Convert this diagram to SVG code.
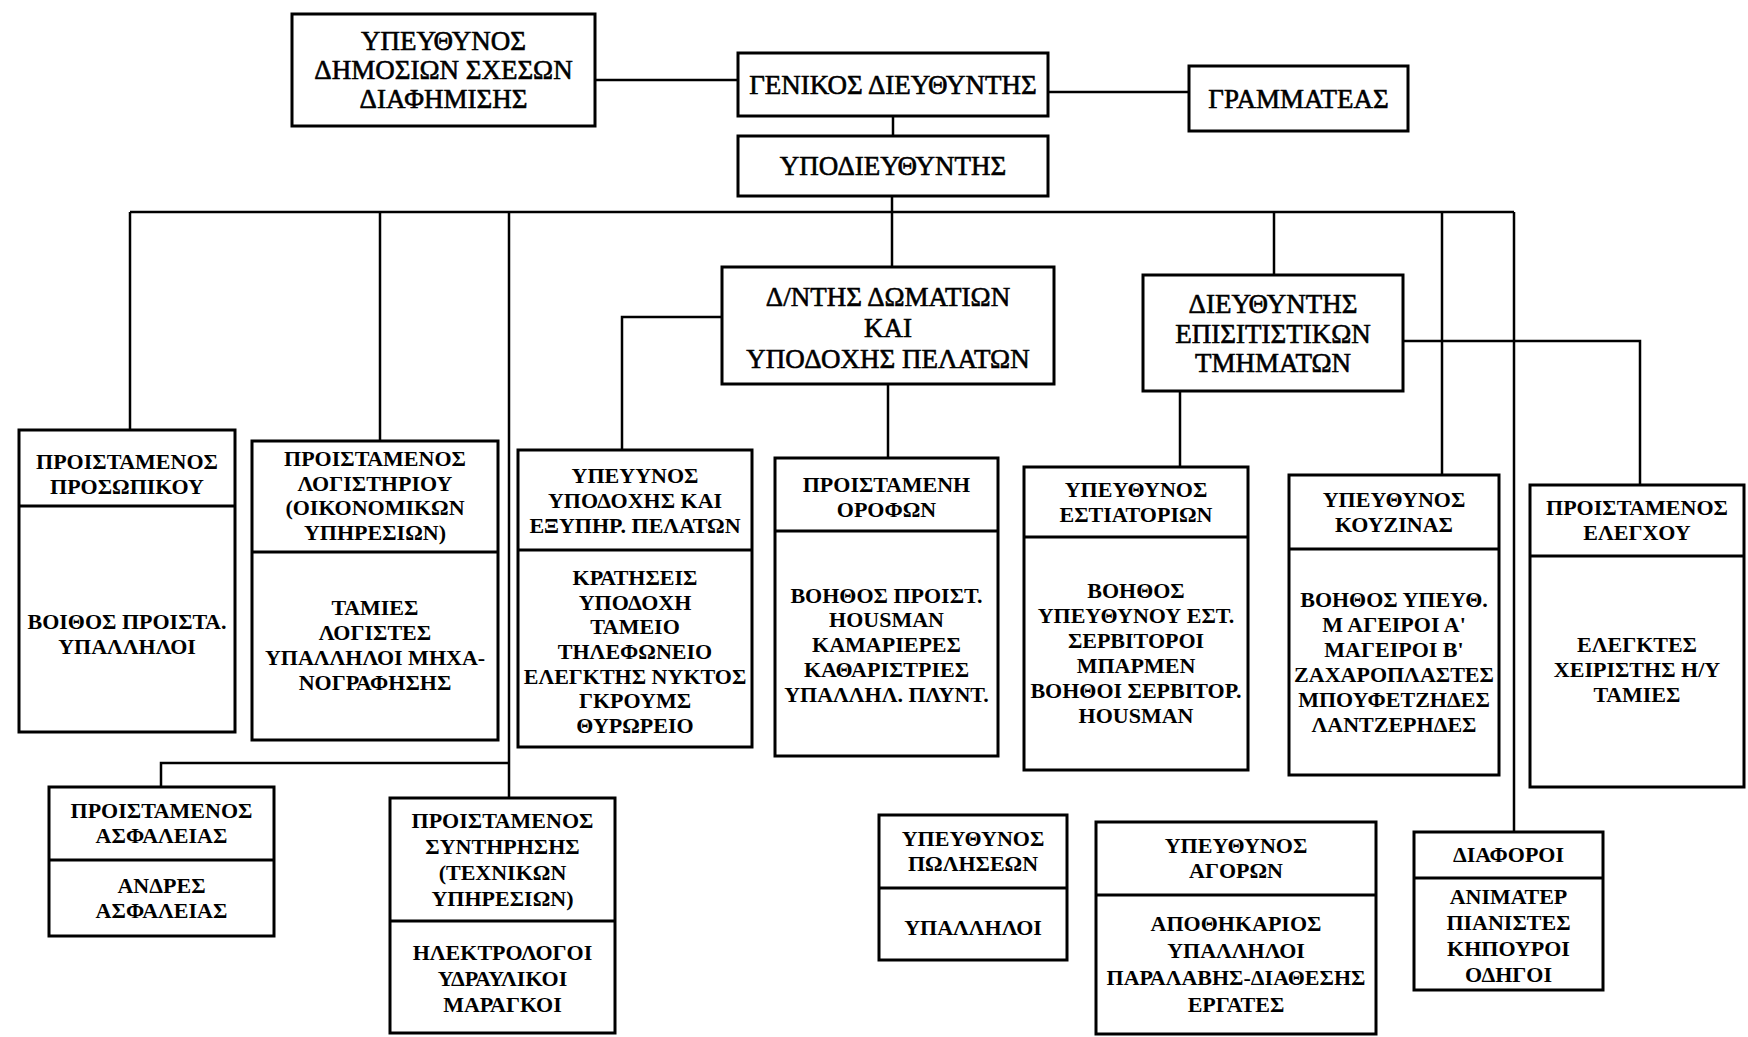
<svg xmlns="http://www.w3.org/2000/svg" width="1748" height="1037" viewBox="0 0 1748 1037">
<style>
  .bx { fill: #fff; stroke: #000; stroke-width: 3; }
  .dv { stroke: #000; stroke-width: 3; }
  .ln { fill: none; stroke: #000; stroke-width: 2.5; }
  .t1 { font-family: "Liberation Serif", "DejaVu Serif", serif; font-size: 27px; text-anchor: middle; fill: #000; stroke: #000; stroke-width: 0.6; }
  .t2 { font-family: "Liberation Serif", "DejaVu Serif", serif; font-size: 22px; font-weight: bold; text-anchor: middle; fill: #000; }
</style>
<rect width="1748" height="1037" fill="#fff"/>

<g id="connectors">
  <line class="ln" x1="595" y1="80" x2="738" y2="80"/>
  <line class="ln" x1="1048" y1="92" x2="1189" y2="92"/>
  <line class="ln" x1="893" y1="116" x2="893" y2="136"/>
  <line class="ln" x1="892" y1="196" x2="892" y2="267"/>
  <line class="ln" x1="130" y1="212" x2="1514" y2="212"/>
  <line class="ln" x1="130" y1="212" x2="130" y2="430"/>
  <line class="ln" x1="380" y1="212" x2="380" y2="441"/>
  <line class="ln" x1="509" y1="212" x2="509" y2="798"/>
  <line class="ln" x1="1274" y1="212" x2="1274" y2="275"/>
  <line class="ln" x1="1442" y1="212" x2="1442" y2="475"/>
  <line class="ln" x1="1514" y1="212" x2="1514" y2="832"/>
  <polyline class="ln" points="722,317 622,317 622,450"/>
  <line class="ln" x1="888" y1="384" x2="888" y2="458"/>
  <line class="ln" x1="1180" y1="391" x2="1180" y2="467"/>
  <polyline class="ln" points="1403,341 1640,341 1640,485"/>
  <polyline class="ln" points="509,763 161,763 161,787"/>
</g>

<g id="pr">
  <rect class="bx" x="292" y="14" width="303" height="112"/>
  <text class="t1"><tspan x="443.5" y="50">ΥΠΕΥΘΥΝΟΣ</tspan><tspan x="443.5" y="79">ΔΗΜΟΣΙΩΝ ΣΧΕΣΩΝ</tspan><tspan x="443.5" y="108">ΔΙΑΦΗΜΙΣΗΣ</tspan></text>
</g>
<g id="gm">
  <rect class="bx" x="738" y="53" width="310" height="63"/>
  <text class="t1" x="893" y="94">ΓΕΝΙΚΟΣ ΔΙΕΥΘΥΝΤΗΣ</text>
</g>
<g id="secretary">
  <rect class="bx" x="1189" y="66" width="219" height="65"/>
  <text class="t1" x="1298.5" y="108">ΓΡΑΜΜΑΤΕΑΣ</text>
</g>
<g id="deputy">
  <rect class="bx" x="738" y="136" width="310" height="60"/>
  <text class="t1" x="893" y="175">ΥΠΟΔΙΕΥΘΥΝΤΗΣ</text>
</g>
<g id="rooms">
  <rect class="bx" x="722" y="267" width="332" height="117"/>
  <text class="t1"><tspan x="888" y="306">Δ/ΝΤΗΣ ΔΩΜΑΤΙΩΝ</tspan><tspan x="888" y="337">ΚΑΙ</tspan><tspan x="888" y="368">ΥΠΟΔΟΧΗΣ ΠΕΛΑΤΩΝ</tspan></text>
</g>
<g id="fb">
  <rect class="bx" x="1143" y="275" width="260" height="116"/>
  <text class="t1"><tspan x="1273" y="313">ΔΙΕΥΘΥΝΤΗΣ</tspan><tspan x="1273" y="343">ΕΠΙΣΙΤΙΣΤΙΚΩΝ</tspan><tspan x="1273" y="372">ΤΜΗΜΑΤΩΝ</tspan></text>
</g>

<g id="personnel">
  <rect class="bx" x="19" y="430" width="216" height="302"/>
  <line class="dv" x1="19" y1="506" x2="235" y2="506"/>
  <text class="t2"><tspan x="127" y="469">ΠΡΟΙΣΤΑΜΕΝΟΣ</tspan><tspan x="127" y="494">ΠΡΟΣΩΠΙΚΟΥ</tspan></text>
  <text class="t2"><tspan x="127" y="629">ΒΟΙΘΟΣ ΠΡΟΙΣΤΑ.</tspan><tspan x="127" y="654">ΥΠΑΛΛΗΛΟΙ</tspan></text>
</g>
<g id="accounting">
  <rect class="bx" x="252" y="441" width="246" height="299"/>
  <line class="dv" x1="252" y1="552" x2="498" y2="552"/>
  <text class="t2"><tspan x="375" y="466">ΠΡΟΙΣΤΑΜΕΝΟΣ</tspan><tspan x="375" y="491">ΛΟΓΙΣΤΗΡΙΟΥ</tspan><tspan x="375" y="515">(ΟΙΚΟΝΟΜΙΚΩΝ</tspan><tspan x="375" y="540">ΥΠΗΡΕΣΙΩΝ)</tspan></text>
  <text class="t2"><tspan x="375" y="615">ΤΑΜΙΕΣ</tspan><tspan x="375" y="640">ΛΟΓΙΣΤΕΣ</tspan><tspan x="375" y="665">ΥΠΑΛΛΗΛΟΙ ΜΗΧΑ-</tspan><tspan x="375" y="690">ΝΟΓΡΑΦΗΣΗΣ</tspan></text>
</g>
<g id="reception">
  <rect class="bx" x="518" y="450" width="234" height="297"/>
  <line class="dv" x1="518" y1="550" x2="752" y2="550"/>
  <text class="t2"><tspan x="635" y="483">ΥΠΕΥΥΝΟΣ</tspan><tspan x="635" y="508">ΥΠΟΔΟΧΗΣ ΚΑΙ</tspan><tspan x="635" y="533">ΕΞΥΠΗΡ. ΠΕΛΑΤΩΝ</tspan></text>
  <text class="t2"><tspan x="635" y="585">ΚΡΑΤΗΣΕΙΣ</tspan><tspan x="635" y="610">ΥΠΟΔΟΧΗ</tspan><tspan x="635" y="634">ΤΑΜΕΙΟ</tspan><tspan x="635" y="659">ΤΗΛΕΦΩΝΕΙΟ</tspan><tspan x="635" y="684">ΕΛΕΓΚΤΗΣ ΝΥΚΤΟΣ</tspan><tspan x="635" y="708">ΓΚΡΟΥΜΣ</tspan><tspan x="635" y="733">ΘΥΡΩΡΕΙΟ</tspan></text>
</g>
<g id="floors">
  <rect class="bx" x="775" y="458" width="223" height="298"/>
  <line class="dv" x1="775" y1="531" x2="998" y2="531"/>
  <text class="t2"><tspan x="886.5" y="492">ΠΡΟΙΣΤΑΜΕΝΗ</tspan><tspan x="886.5" y="517">ΟΡΟΦΩΝ</tspan></text>
  <text class="t2"><tspan x="886.5" y="603">ΒΟΗΘΟΣ ΠΡΟΙΣΤ.</tspan><tspan x="886.5" y="627">HOUSMAN</tspan><tspan x="886.5" y="652">ΚΑΜΑΡΙΕΡΕΣ</tspan><tspan x="886.5" y="677">ΚΑΘΑΡΙΣΤΡΙΕΣ</tspan><tspan x="886.5" y="702">ΥΠΑΛΛΗΛ. ΠΛΥΝΤ.</tspan></text>
</g>
<g id="restaurants">
  <rect class="bx" x="1024" y="467" width="224" height="303"/>
  <line class="dv" x1="1024" y1="537" x2="1248" y2="537"/>
  <text class="t2"><tspan x="1136" y="497">ΥΠΕΥΘΥΝΟΣ</tspan><tspan x="1136" y="522">ΕΣΤΙΑΤΟΡΙΩΝ</tspan></text>
  <text class="t2"><tspan x="1136" y="598">ΒΟΗΘΟΣ</tspan><tspan x="1136" y="623">ΥΠΕΥΘΥΝΟΥ ΕΣΤ.</tspan><tspan x="1136" y="648">ΣΕΡΒΙΤΟΡΟΙ</tspan><tspan x="1136" y="673">ΜΠΑΡΜΕΝ</tspan><tspan x="1136" y="698">ΒΟΗΘΟΙ ΣΕΡΒΙΤΟΡ.</tspan><tspan x="1136" y="723">HOUSMAN</tspan></text>
</g>
<g id="kitchen">
  <rect class="bx" x="1289" y="475" width="210" height="300"/>
  <line class="dv" x1="1289" y1="549" x2="1499" y2="549"/>
  <text class="t2"><tspan x="1394" y="507">ΥΠΕΥΘΥΝΟΣ</tspan><tspan x="1394" y="532">ΚΟΥΖΙΝΑΣ</tspan></text>
  <text class="t2"><tspan x="1394" y="607">ΒΟΗΘΟΣ ΥΠΕΥΘ.</tspan><tspan x="1394" y="632">Μ ΑΓΕΙΡΟΙ Α'</tspan><tspan x="1394" y="657">ΜΑΓΕΙΡΟΙ Β'</tspan><tspan x="1394" y="682">ΖΑΧΑΡΟΠΛΑΣΤΕΣ</tspan><tspan x="1394" y="707">ΜΠΟΥΦΕΤΖΗΔΕΣ</tspan><tspan x="1394" y="732">ΛΑΝΤΖΕΡΗΔΕΣ</tspan></text>
</g>
<g id="control">
  <rect class="bx" x="1530" y="485" width="214" height="302"/>
  <line class="dv" x1="1530" y1="556" x2="1744" y2="556"/>
  <text class="t2"><tspan x="1637" y="515">ΠΡΟΙΣΤΑΜΕΝΟΣ</tspan><tspan x="1637" y="540">ΕΛΕΓΧΟΥ</tspan></text>
  <text class="t2"><tspan x="1637" y="652">ΕΛΕΓΚΤΕΣ</tspan><tspan x="1637" y="677">ΧΕΙΡΙΣΤΗΣ Η/Υ</tspan><tspan x="1637" y="702">ΤΑΜΙΕΣ</tspan></text>
</g>
<g id="security">
  <rect class="bx" x="49" y="787" width="225" height="149"/>
  <line class="dv" x1="49" y1="860" x2="274" y2="860"/>
  <text class="t2"><tspan x="161.5" y="818">ΠΡΟΙΣΤΑΜΕΝΟΣ</tspan><tspan x="161.5" y="843">ΑΣΦΑΛΕΙΑΣ</tspan></text>
  <text class="t2"><tspan x="161.5" y="893">ΑΝΔΡΕΣ</tspan><tspan x="161.5" y="918">ΑΣΦΑΛΕΙΑΣ</tspan></text>
</g>
<g id="maintenance">
  <rect class="bx" x="390" y="798" width="225" height="235"/>
  <line class="dv" x1="390" y1="921" x2="615" y2="921"/>
  <text class="t2"><tspan x="502.5" y="828">ΠΡΟΙΣΤΑΜΕΝΟΣ</tspan><tspan x="502.5" y="854">ΣΥΝΤΗΡΗΣΗΣ</tspan><tspan x="502.5" y="880">(ΤΕΧΝΙΚΩΝ</tspan><tspan x="502.5" y="906">ΥΠΗΡΕΣΙΩΝ)</tspan></text>
  <text class="t2"><tspan x="502.5" y="960">ΗΛΕΚΤΡΟΛΟΓΟΙ</tspan><tspan x="502.5" y="986">ΥΔΡΑΥΛΙΚΟΙ</tspan><tspan x="502.5" y="1012">ΜΑΡΑΓΚΟΙ</tspan></text>
</g>
<g id="sales">
  <rect class="bx" x="879" y="815" width="188" height="145"/>
  <line class="dv" x1="879" y1="888" x2="1067" y2="888"/>
  <text class="t2"><tspan x="973" y="846">ΥΠΕΥΘΥΝΟΣ</tspan><tspan x="973" y="871">ΠΩΛΗΣΕΩΝ</tspan></text>
  <text class="t2" x="973" y="935">ΥΠΑΛΛΗΛΟΙ</text>
</g>
<g id="purchasing">
  <rect class="bx" x="1096" y="822" width="280" height="212"/>
  <line class="dv" x1="1096" y1="895" x2="1376" y2="895"/>
  <text class="t2"><tspan x="1236" y="853">ΥΠΕΥΘΥΝΟΣ</tspan><tspan x="1236" y="878">ΑΓΟΡΩΝ</tspan></text>
  <text class="t2"><tspan x="1236" y="931">ΑΠΟΘΗΚΑΡΙΟΣ</tspan><tspan x="1236" y="958">ΥΠΑΛΛΗΛΟΙ</tspan><tspan x="1236" y="985">ΠΑΡΑΛΑΒΗΣ-ΔΙΑΘΕΣΗΣ</tspan><tspan x="1236" y="1012">ΕΡΓΑΤΕΣ</tspan></text>
</g>
<g id="misc">
  <rect class="bx" x="1414" y="832" width="189" height="158"/>
  <line class="dv" x1="1414" y1="878" x2="1603" y2="878"/>
  <text class="t2" x="1508.5" y="862">ΔΙΑΦΟΡΟΙ</text>
  <text class="t2"><tspan x="1508.5" y="904">ΑΝΙΜΑΤΕΡ</tspan><tspan x="1508.5" y="930">ΠΙΑΝΙΣΤΕΣ</tspan><tspan x="1508.5" y="956">ΚΗΠΟΥΡΟΙ</tspan><tspan x="1508.5" y="982">ΟΔΗΓΟΙ</tspan></text>
</g>
</svg>
